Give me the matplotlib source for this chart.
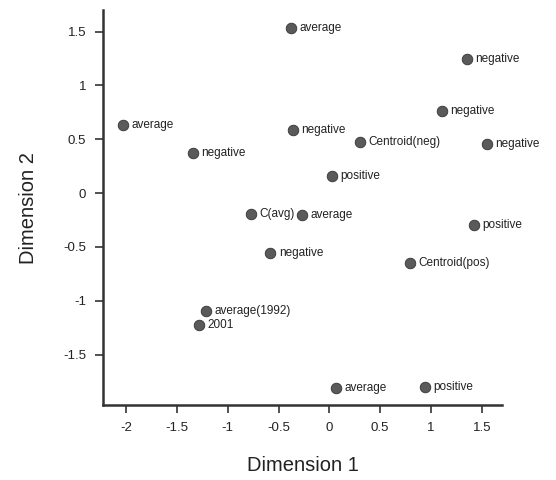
import matplotlib.pyplot as plt

plt.rcParams['font.family'] = ['Liberation Sans', 'DejaVu Sans']

# Point coordinates
labels = ['average', 'negative', 'average', 'negative', 'negative', 'Centroid(neg)',
          'negative', 'negative', 'positive', 'C(avg)', 'average', 'positive',
          'negative', 'Centroid(pos)', 'average(1992)', '2001', 'average', 'positive']
dim1 = [-0.38, 1.35, -2.03, 1.11, -0.36, 0.30, 1.55, -1.34, 0.03, -0.77, -0.27, 1.42,
        -0.58, 0.79, -1.21, -1.28, 0.07, 0.94]
dim2 = [1.53, 1.25, 0.63, 0.76, 0.59, 0.47, 0.46, 0.37, 0.16, -0.19, -0.20, -0.30,
        -0.56, -0.65, -1.10, -1.23, -1.81, -1.80]

xticks = [-2, -1.5, -1, -0.5, 0, 0.5, 1, 1.5]
yticks = [-1.5, -1, -0.5, 0, 0.5, 1, 1.5]

fig = plt.figure(figsize=(5.56, 4.8), dpi=100)
ax = fig.add_axes([0.185, 0.156, 0.718, 0.823])

ax.scatter(dim1, dim2, s=58, color='#5a5a5a', edgecolor='#333333', linewidth=0.6, zorder=3)
for x, y, t in zip(dim1, dim2, labels):
    ax.annotate(t, (x, y), xytext=(6, 0), textcoords='offset points',
                va='center', ha='left', fontsize=8.5, color='#222222')

ax.set_xlim(-2.23, 1.70)
ax.set_ylim(-1.97, 1.70)
ax.set_xticks(xticks)
ax.set_xticklabels(['-2', '-1.5', '-1', '-0.5', '0', '0.5', '1', '1.5'])
ax.set_yticks(yticks)
ax.set_yticklabels(['-1.5', '-1', '-0.5', '0', '0.5', '1', '1.5'])

for side in ['top', 'right']:
    ax.spines[side].set_visible(False)
for side in ['left', 'bottom']:
    ax.spines[side].set_linewidth(1.8)
    ax.spines[side].set_color('#333333')
ax.tick_params(direction='out', length=6, width=1.2, colors='#333333',
               labelsize=9.5, labelcolor='#222222', pad=6)

ax.set_xlabel('Dimension 1', fontsize=14.5, color='#222222', labelpad=16)
ax.set_ylabel('Dimension 2', fontsize=14.5, color='#222222', labelpad=18)

fig.savefig('out.png', dpi=100)
